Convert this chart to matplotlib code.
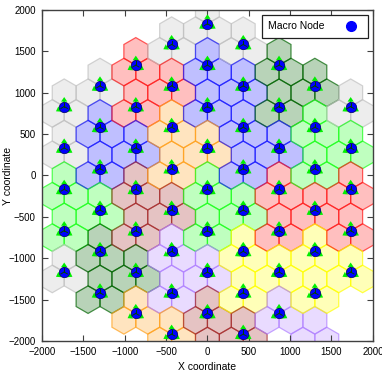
import numpy as np
import matplotlib
matplotlib.use("Agg")
import matplotlib.pyplot as plt
from matplotlib.patches import RegularPolygon
from matplotlib.lines import Line2D

plt.rcParams["font.family"] = ["Liberation Sans", "DejaVu Sans"]

# macro sites (x, y) and the cluster colour of their three sector cells
site_x = ([-1732] * 5 + [-1299] * 6 + [-866] * 7 + [-433] * 8 + [0] * 9
          + [433] * 8 + [866] * 7 + [1299] * 6 + [1732] * 5)
site_y = ([833, 333, -167, -667, -1167]
          + [1083, 583, 83, -417, -917, -1417]
          + [1333, 833, 333, -167, -667, -1167, -1667]
          + [1583, 1083, 583, 83, -417, -917, -1417, -1917]
          + [1833, 1333, 833, 333, -167, -667, -1167, -1667, -2167]
          + [1583, 1083, 583, 83, -417, -917, -1417, -1917]
          + [1333, 833, 333, -167, -667, -1167, -1667]
          + [1083, 583, 83, -417, -917, -1417]
          + [833, 333, -167, -667, -1167])
site_color = (["gray", "gray", "lgreen", "lgreen", "gray"]
              + ["gray", "blue", "blue", "lgreen", "dgreen", "dgreen"]
              + ["red", "red", "blue", "brown", "brown", "dgreen", "orange"]
              + ["gray", "red", "orange", "orange", "brown", "purple", "purple", "orange"]
              + ["gray", "blue", "blue", "orange", "lgreen", "lgreen", "purple", "brown", "brown"]
              + ["gray", "blue", "blue", "blue", "lgreen", "yellow", "yellow", "brown"]
              + ["dgreen", "dgreen", "blue", "red", "red", "yellow", "purple"]
              + ["dgreen", "lgreen", "lgreen", "red", "yellow", "yellow"]
              + ["gray", "lgreen", "red", "red", "yellow"])

# wrapped-around cells drawn without a node
ghost_x = [1299]
ghost_y = [-1917]
ghost_color = ["purple"]

cell_radius = 500 / 3.0
sector_angles = [90, 210, 330]

palette = {
    "gray": "#c0c0c0",
    "red": "#ff1a1a",
    "blue": "#1a1aff",
    "orange": "#ffa01a",
    "lgreen": "#1aff1a",
    "dgreen": "#006400",
    "brown": "#a52a2a",
    "purple": "#b080ff",
    "yellow": "#ffff00",
}

fig = plt.figure(figsize=(3.82, 3.75), dpi=100)
ax = fig.add_axes([0.110, 0.0907, 0.866, 0.8827])


def draw_cells(xs, ys, cols):
    for sx, sy, c in zip(xs, ys, cols):
        col = palette[c]
        for ang in sector_angles:
            cx = sx + cell_radius * np.cos(np.radians(ang))
            cy = sy + cell_radius * np.sin(np.radians(ang))
            face = matplotlib.colors.to_rgba(col, 0.28)
            edge = matplotlib.colors.to_rgba(col, 0.7)
            hexagon = RegularPolygon((cx, cy), numVertices=6, radius=cell_radius,
                                     orientation=0, facecolor=face,
                                     edgecolor=edge, linewidth=0.9)
            ax.add_patch(hexagon)


draw_cells(ghost_x, ghost_y, ghost_color)
draw_cells(site_x, site_y, site_color)

# antenna directions
for sx, sy in zip(site_x, site_y):
    for ang in sector_angles:
        dx = 115 * np.cos(np.radians(ang))
        dy = 115 * np.sin(np.radians(ang))
        ax.arrow(sx, sy, dx, dy, width=22, head_width=75, head_length=55,
                 length_includes_head=True, color="#00ee00", lw=0, zorder=3)

ax.plot(site_x, site_y, "o", color="#0000ff", markersize=7.5,
        markeredgecolor="#000060", markeredgewidth=0.5, zorder=4)
for sx, sy in zip(site_x, site_y):
    for ang in sector_angles:
        ax.plot([sx, sx + 45 * np.cos(np.radians(ang))],
                [sy, sy + 45 * np.sin(np.radians(ang))],
                color="#004400", lw=0.7, zorder=5)

ax.set_xlim(-2000, 2000)
ax.set_ylim(-2000, 2000)
ax.set_xticks(np.arange(-2000, 2001, 500))
ax.set_yticks(np.arange(-2000, 2001, 500))
ax.tick_params(direction="in", top=True, right=True, labelsize=7,
               length=4, width=0.8, color="#404040", pad=4.5)
for sp in ax.spines.values():
    sp.set_color("#404040")
    sp.set_linewidth(1.0)
ax.set_xlabel("X coordinate", fontsize=7.5)
ax.set_ylabel("Y coordinate", fontsize=7.5)
ax.xaxis.set_label_coords(0.5, -0.062)
ax.yaxis.set_label_coords(-0.088, 0.5)

handle = Line2D([], [], marker="o", color="#0000ff", linestyle="none",
                markersize=7)
leg = ax.legend([handle], ["Macro Node"], loc="upper right", markerfirst=False,
                fancybox=False, edgecolor="#202020", fontsize=7.5,
                borderpad=0.6, handletextpad=1.5, borderaxespad=0.5,
                framealpha=1)
leg.get_frame().set_linewidth(0.9)

fig.savefig("out.png", dpi=100)
